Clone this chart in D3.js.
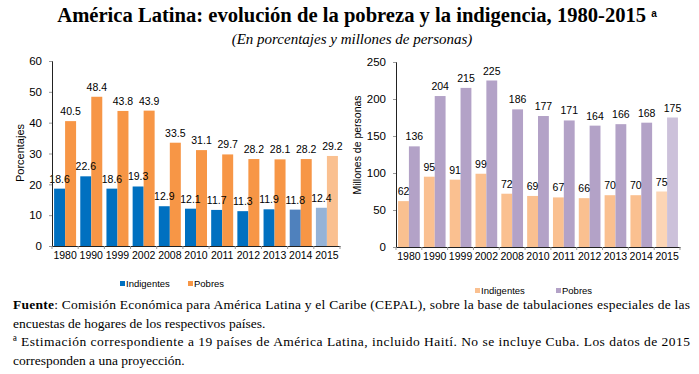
<!DOCTYPE html>
<html>
<head>
<meta charset="utf-8">
<script src="https://cdn.jsdelivr.net/npm/d3@7"></script>
<style>
  body { margin: 0; background: #fff; }
  svg { display: block; }
</style>
</head>
<body>
<script>
// Data
var years = ["1980", "1990", "1999", "2002", "2008", "2010", "2011", "2012", "2013", "2014", "2015"];
var indigPct = [18.6, 22.6, 18.6, 19.3, 12.9, 12.1, 11.7, 11.3, 11.9, 11.8, 12.4];
var pobresPct = [40.5, 48.4, 43.8, 43.9, 33.5, 31.1, 29.7, 28.2, 28.1, 28.2, 29.2];
var indigMill = [62, 95, 91, 99, 72, 69, 67, 66, 70, 70, 75];
var pobresMill = [136, 204, 215, 225, 186, 177, 171, 164, 166, 168, 175];
var seriesNames = ["Indigentes", "Pobres"];

var svg = d3.select("body")
	.append("svg")
	.attr("width", 699)
	.attr("height", 374);

// Title
var title = svg.append("text")
	.attr("x", 357)
	.attr("y", 22)
	.attr("text-anchor", "middle")
	.style("font-family", "'Liberation Serif', 'Times New Roman', serif")
	.style("font-weight", "bold")
	.style("font-size", "20.6px")
	.text("América Latina: evolución de la pobreza y la indigencia, 1980-2015");
title.append("tspan")
	.attr("dx", 5)
	.attr("dy", -5)
	.style("font-family", "Arial, 'Liberation Sans', sans-serif")
	.style("font-size", "10px")
	.text("a");

svg.append("text")
	.attr("x", 352)
	.attr("y", 44)
	.attr("text-anchor", "middle")
	.style("font-family", "'Liberation Serif', 'Times New Roman', serif")
	.style("font-style", "italic")
	.style("font-size", "15px")
	.text("(En porcentajes y millones de personas)");

function drawPanel(cfg) {
	var g = svg.append("g");

	var x0 = d3.scaleBand()
		.domain(years)
		.range([cfg.left, cfg.right])
		.padding(0);

	var x1 = d3.scaleBand()
		.domain([0, 1])
		.range([0, x0.bandwidth()])
		.paddingInner(0)
		.paddingOuter(0.19);

	var y = d3.scaleLinear()
		.domain([0, cfg.max])
		.range([cfg.bottom, cfg.top]);

	// bars first, labels on top
	cfg.series.forEach(function(vals, s) {
		g.selectAll(".bar" + s)
			.data(vals)
			.join("rect")
			.attr("class", "bar" + s)
			.attr("x", (d, i) => x0(years[i]) + x1(s))
			.attr("y", d => y(d))
			.attr("width", x1.bandwidth())
			.attr("height", d => cfg.bottom - y(d))
			.attr("fill", (d, i) => cfg.colors[s][i] || cfg.colors[s].base);
	});
	cfg.series.forEach(function(vals, s) {
		g.selectAll(".lab" + s)
			.data(vals)
			.join("text")
			.attr("class", "lab" + s)
			.attr("x", (d, i) => x0(years[i]) + x1(s) + x1.bandwidth() / 2)
			.attr("y", d => y(d) - 6)
			.attr("text-anchor", "middle")
			.style("font-family", "Arial, 'Liberation Sans', sans-serif")
			.style("font-size", "10.5px")
			.text(d => cfg.fmt(d));
	});

	// y axis
	var yAxis = g.append("g")
		.attr("transform", "translate(" + cfg.left + ",0)")
		.call(d3.axisLeft(y).tickValues(d3.range(0, cfg.max + 1, cfg.step)).tickSize(3).tickPadding(7));
	yAxis.select(".domain").attr("stroke", "#222");
	yAxis.selectAll(".tick line").attr("stroke", "#999");
	yAxis.selectAll("text")
		.style("font-family", "Arial, 'Liberation Sans', sans-serif")
		.style("font-size", "11.5px")
		.attr("fill", "#000");

	// x axis
	var xAxis = g.append("g")
		.attr("transform", "translate(0," + cfg.bottom + ")")
		.call(d3.axisBottom(x0).tickSize(0).tickPadding(6));
	xAxis.select(".domain").attr("stroke", "#222");
	xAxis.selectAll("text")
		.style("font-family", "Arial, 'Liberation Sans', sans-serif")
		.style("font-size", "10.5px")
		.attr("fill", "#000");
	// boundary ticks
	g.selectAll(".bound")
		.data(years.concat(["end"]))
		.join("line")
		.attr("class", "bound")
		.attr("x1", (d, i) => cfg.left + i * x0.step())
		.attr("x2", (d, i) => cfg.left + i * x0.step())
		.attr("y1", cfg.bottom)
		.attr("y2", cfg.bottom + 3)
		.attr("stroke", "#999");

	// axis title
	g.append("text")
		.attr("transform", "translate(" + cfg.titleX + "," + cfg.titleY + ") rotate(-90)")
		.attr("text-anchor", "middle")
		.style("font-family", "Arial, 'Liberation Sans', sans-serif")
		.style("font-size", cfg.titleSize)
		.text(cfg.yTitle);

	// legend
	var leg = g.selectAll(".leg")
		.data(seriesNames)
		.join("g")
		.attr("class", "leg")
		.attr("transform", (d, i) => "translate(" + cfg.legX[i] + "," + cfg.legY + ")");
	leg.append("rect")
		.attr("x", 0)
		.attr("y", -6)
		.attr("width", 5)
		.attr("height", 5)
		.attr("fill", (d, i) => cfg.colors[i].base);
	leg.append("text")
		.attr("x", 6)
		.attr("y", 0)
		.style("font-family", "Arial, 'Liberation Sans', sans-serif")
		.style("font-size", "9.5px")
		.text(d => d);
}

drawPanel({
	left: 52, right: 340, top: 61, bottom: 246,
	max: 60, step: 10,
	series: [indigPct, pobresPct],
	colors: [
		{ base: "#0070C0", 9: "#4F81BD", 10: "#95B3D7" },
		{ base: "#F79646", 10: "#FAC090" }
	],
	fmt: d3.format(".1f"),
	yTitle: "Porcentajes", titleX: 24, titleY: 153, titleSize: "11px",
	legX: [120, 188], legY: 287
});

drawPanel({
	left: 396, right: 680, top: 62, bottom: 247,
	max: 250, step: 50,
	series: [indigMill, pobresMill],
	colors: [
		{ base: "#FAC090", 10: "#FCD5B5" },
		{ base: "#B3A2C7", 10: "#CCC1DA" }
	],
	fmt: d3.format("d"),
	yTitle: "Millones de personas", titleX: 361, titleY: 145, titleSize: "10.5px",
	legX: [475, 556], legY: 294
});

// Footnotes
var notes = svg.append("g")
	.style("font-family", "'Liberation Serif', 'Times New Roman', serif")
	.style("font-size", "13.5px");

var l1 = notes.append("text")
	.attr("x", 13).attr("y", 309)
	.attr("textLength", 677).attr("lengthAdjust", "spacing");
l1.append("tspan").style("font-weight", "bold").text("Fuente");
l1.append("tspan").text(": Comisión Económica para América Latina y el Caribe (CEPAL), sobre la base de tabulaciones especiales de las");

notes.append("text")
	.attr("x", 13).attr("y", 327.5)
	.text("encuestas de hogares de los respectivos países.");

notes.append("text")
	.attr("x", 13).attr("y", 346)
	.attr("textLength", 677).attr("lengthAdjust", "spacing")
	.text("ª Estimación correspondiente a 19 países de América Latina, incluido Haití. No se incluye Cuba. Los datos de 2015");

notes.append("text")
	.attr("x", 13).attr("y", 364.5)
	.text("corresponden a una proyección.");
</script>
</body>
</html>
